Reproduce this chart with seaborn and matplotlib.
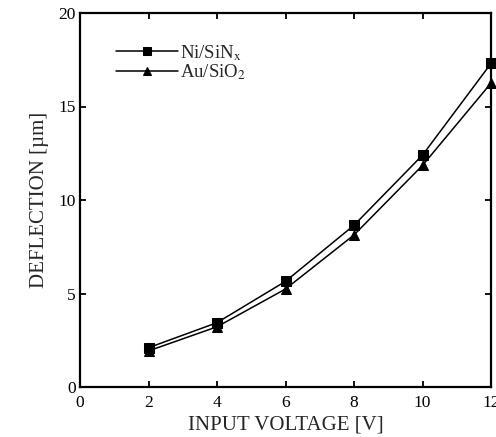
import matplotlib
matplotlib.use("Agg")
import matplotlib.pyplot as plt
import seaborn as sns
import pandas as pd

# values
voltage = [2, 4, 6, 8, 10, 12]
ni_sinx = [2.1, 3.44, 5.65, 8.65, 12.4, 17.3]
au_sio2 = [1.93, 3.22, 5.24, 8.13, 11.85, 16.25]

sns.set_theme(style="ticks")
plt.rcParams['font.family'] = ['Liberation Serif', 'DejaVu Serif']
plt.rcParams['mathtext.fontset'] = 'stix'

fig = plt.figure(figsize=(4.96, 4.37), dpi=100)
ax = fig.add_axes([80 / 496, 50 / 437, 411 / 496, 374 / 437])

df_ni = pd.DataFrame({'V': voltage, 'D': ni_sinx})
df_au = pd.DataFrame({'V': voltage, 'D': au_sio2})

sns.lineplot(data=df_ni, x='V', y='D', ax=ax, color='black', lw=1.1,
             marker='s', markersize=6.5, markeredgecolor='black',
             label=r'Ni/SiN$_{\mathrm{x}}$', clip_on=False)
sns.lineplot(data=df_au, x='V', y='D', ax=ax, color='black', lw=1.1,
             marker='^', markersize=6.5, markeredgecolor='black',
             label=r'Au/SiO$_{\mathrm{2}}$', clip_on=False)

ax.set_xlim(0, 12)
ax.set_ylim(0, 20)
ax.set_xticks(range(0, 13, 2))
ax.set_yticks(range(0, 21, 5))
ax.tick_params(direction='in', length=4, width=1.3, top=True, right=True,
               labelsize=12.5, colors='black')
ax.tick_params(axis='x', pad=6)
ax.tick_params(axis='y', pad=3)
for s in ax.spines.values():
    s.set_linewidth(1.6)
    s.set_color('black')

ax.set_xlabel('INPUT VOLTAGE [V]', fontsize=15, labelpad=3)
ax.set_ylabel('DEFLECTION [µm]', fontsize=15, labelpad=7)

ax.legend(loc='upper left', bbox_to_anchor=(0.088, 0.92), frameon=False,
          fontsize=13.5, handlelength=3.3, handletextpad=0.1,
          labelspacing=0.0, borderaxespad=0, borderpad=0, markerscale=0.8)

fig.savefig('out.png', dpi=100)
